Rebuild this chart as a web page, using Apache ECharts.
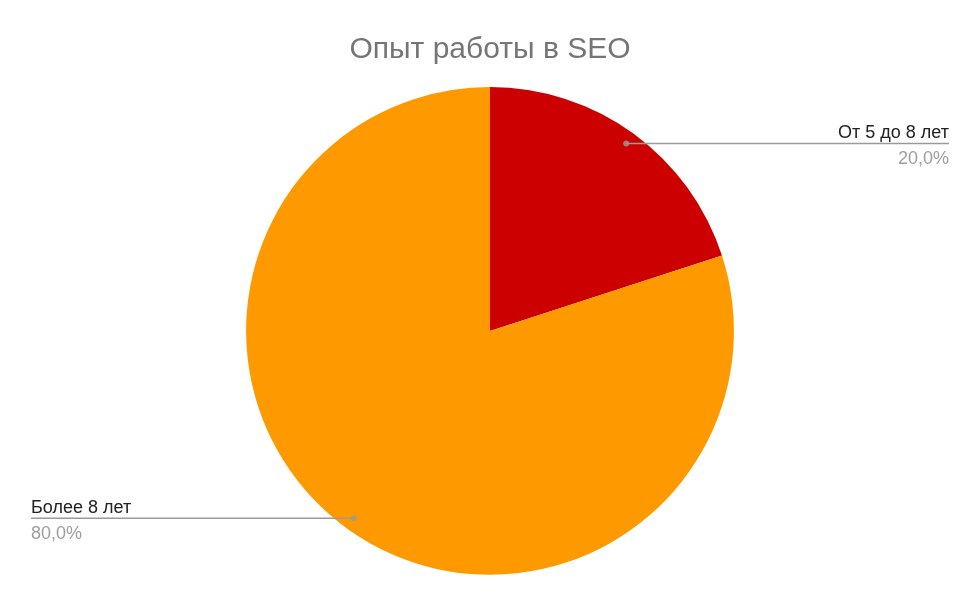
<!DOCTYPE html>
<html>
<head>
<meta charset="utf-8">
<script src="https://cdn.jsdelivr.net/npm/echarts@6/dist/echarts.min.js"></script>
<style>html,body{margin:0;padding:0;background:#fff}#c{width:980px;height:606px}</style>
</head>
<body>
<div id="c"></div>
<script>
const titleText = 'Опыт работы в SEO';
const categories = ['От 5 до 8 лет', 'Более 8 лет'];
const values = [20, 80];
const colors = ['#cc0000', '#ff9900'];

const total = values.reduce((a, b) => a + b, 0);
const pieData = categories.map((n, i) => ({ name: n, value: values[i], itemStyle: { color: colors[i] } }));
let acc = 0;
const dotData = values.map(v => { const mid = acc + v / 2; acc += v; return [0.95, mid]; });
const fmtPct = v => (v / total * 100).toFixed(1).replace('.', ',') + '%';

const CENTER = ['50%', '54.6%'];
const R = 80.5;
const FONT = 'Liberation Sans, Arial, sans-serif';

const chart = echarts.init(document.getElementById('c'));
chart.setOption({
  animation: false,
  backgroundColor: '#fff',
  title: {
    text: titleText, left: 'center', top: 30,
    textStyle: { fontFamily: FONT, fontSize: 30, fontWeight: 'normal', color: '#757575' }
  },
  polar: { center: CENTER, radius: R + '%' },
  angleAxis: { type: 'value', min: 0, max: total, startAngle: 90, clockwise: true, show: false },
  radiusAxis: { type: 'value', min: 0, max: 1, show: false },
  series: [
    {
      type: 'pie', center: CENTER, radius: R + '%', startAngle: 90, clockwise: true,
      data: pieData, label: { show: false }, labelLine: { show: false }, z: 1
    },
    {
      type: 'pie', center: CENTER, radius: (R * 0.95) + '%', startAngle: 90, clockwise: true, silent: true,
      data: pieData.map(d => ({ name: d.name, value: d.value })),
      itemStyle: { color: 'rgba(0,0,0,0)' }, z: 3,
      label: {
        position: 'outside', alignTo: 'edge', edgeDistance: 31,
        fontFamily: FONT,
        formatter: p => '{n|' + p.name + '}\n{p|' + fmtPct(p.value) + '}',
        rich: {
          n: { fontSize: 18, color: '#222222', lineHeight: 31, fontFamily: FONT },
          p: { fontSize: 18, color: '#9e9e9e', lineHeight: 21, fontFamily: FONT }
        }
      },
      labelLine: { show: true, length: 0, length2: 20, lineStyle: { color: '#9a9a9a', width: 1.5 } },
      labelLayout: function (params) {
        const pts = params.labelLinePoints;
        if (!pts) return {};
        const r = params.labelRect;
        const y = pts[0][1];
        const right = r.x + r.width / 2 > pts[0][0];
        const endX = right ? r.x + r.width : r.x;
        return { labelLinePoints: [[pts[0][0], y], [pts[0][0], y], [endX, y]] };
      }
    },
    {
      type: 'scatter', coordinateSystem: 'polar', data: dotData, symbolSize: 6, silent: true, z: 4,
      itemStyle: { color: '#9a9a9a' }
    }
  ]
});
</script>
</body>
</html>
